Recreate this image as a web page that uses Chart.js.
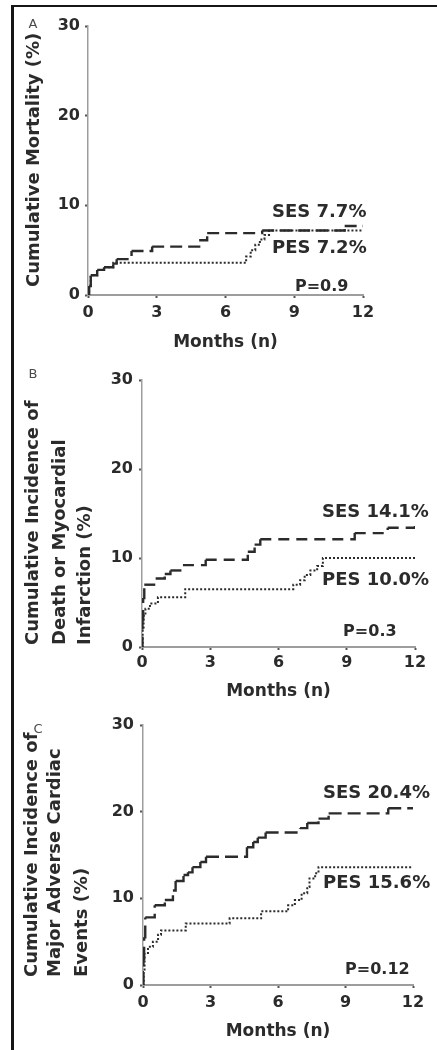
<!DOCTYPE html>
<html>
<head>
<meta charset="utf-8">
<title>Cumulative event curves, SES vs PES</title>
<script src="https://cdn.jsdelivr.net/npm/chart.js@4.4.1/dist/chart.umd.min.js"></script>
<style>
  html, body { margin: 0; padding: 0; background: #fff; }
  body { width: 437px; height: 1050px; position: relative; overflow: hidden; }
  #frame { position: absolute; left: 11px; top: 5px; right: 0; bottom: 0;
           border-left: 3px solid #161616; border-top: 2px solid #161616; }
  canvas { position: absolute; left: 0; }
</style>
</head>
<body>
<div id="frame"></div>
<canvas id="panelA" width="437" height="355" style="top:0px"></canvas>
<canvas id="panelB" width="437" height="350" style="top:355px"></canvas>
<canvas id="panelC" width="437" height="345" style="top:705px"></canvas>
<script>
// ---- shared axes ----
const monthTicks = [0, 3, 6, 9, 12];
const percentTicks = [0, 10, 20, 30];

// ---- A: cumulative mortality ----
const mortalityMonthsSES = [0, 0.05, 0.12, 0.4, 0.7, 1.1, 1.25, 1.9, 2.8, 4.85, 5.2, 7.6, 11.2, 12];
const mortalitySES       = [0, 1.0, 2.2, 2.8, 3.1, 3.5, 4.0, 4.9, 5.4, 6.1, 6.9, 7.2, 7.7, 7.7];
const mortalityMonthsPES = [0, 0.05, 0.12, 0.4, 0.7, 1.1, 6.9, 7.1, 7.3, 7.5, 7.7, 7.9, 12];
const mortalityPES       = [0, 1.0, 2.2, 2.8, 3.1, 3.6, 4.3, 5.0, 5.6, 6.2, 6.7, 7.2, 7.2];
const mortalityRates = [7.7, 7.2];   // SES, PES
const mortalityP = '0.9';

// ---- B: death or myocardial infarction ----
const deathMiMonthsSES = [0, 0.02, 0.05, 0.1, 0.6, 1.0, 1.25, 1.8, 2.8, 4.65, 4.95, 5.2, 9.35, 10.8, 12];
const deathMiSES       = [0, 3.0, 5.5, 7.0, 7.7, 8.2, 8.6, 9.2, 9.8, 10.7, 11.5, 12.1, 12.8, 13.4, 14.1];
const deathMiMonthsPES = [0, 0.03, 0.07, 0.15, 0.35, 0.7, 1.9, 6.65, 6.95, 7.15, 7.4, 7.7, 7.95, 12];
const deathMiPES       = [0, 2.0, 3.5, 4.3, 4.9, 5.6, 6.5, 7.0, 7.5, 8.1, 8.6, 9.1, 10.0, 10.0];
const deathMiRates = [14.1, 10.0];
const deathMiP = '0.3';

// ---- C: major adverse cardiac events ----
const maceMonthsSES = [0, 0.02, 0.05, 0.1, 0.52, 0.97, 1.33, 1.45, 1.8, 2.0, 2.2, 2.55, 2.8, 4.62, 4.9, 5.1, 5.45, 6.98, 7.3, 7.8, 8.25, 10.9, 12];
const maceSES       = [0, 3.0, 5.5, 7.8, 9.2, 9.8, 10.9, 12.0, 12.7, 13.0, 13.6, 14.2, 14.8, 15.9, 16.5, 17.0, 17.6, 18.1, 18.7, 19.2, 19.8, 20.4, 20.4];
const maceMonthsPES = [0, 0.03, 0.07, 0.22, 0.44, 0.67, 0.8, 1.9, 3.85, 5.25, 6.45, 6.75, 7.05, 7.3, 7.4, 7.65, 7.8, 12];
const macePES       = [0, 1.5, 3.7, 4.4, 5.0, 5.8, 6.3, 7.1, 7.7, 8.5, 9.2, 9.8, 10.6, 11.3, 12.3, 12.9, 13.6, 13.6];
const maceRates = [20.4, 15.6];
const maceP = '0.12';

const seriesNames = ['SES', 'PES'];

// ---- styling ----
const INK = '#2b2b2b';
const AXIS = '#9d9d9d';
const FONT = "'DejaVu Sans', sans-serif";
Chart.defaults.font.family = FONT;
Chart.defaults.color = INK;

// Draws the series/P annotations (in data coordinates), the panel letter
// and the rotated, bottom-anchored multi-line y-axis title.
const kmNotes = {
  id: 'kmNotes',
  afterDraw(chart, _args, o) {
    const { ctx } = chart;
    const xs = chart.scales.x, ys = chart.scales.y;
    ctx.save();
    ctx.textBaseline = 'middle';
    ctx.textAlign = 'left';
    ctx.fillStyle = INK;
    o.notes.forEach(n => {
      ctx.font = n.font;
      ctx.fillText(n.text, xs.getPixelForValue(n.at[0]), ys.getPixelForValue(n.at[1]));
    });
    ctx.font = "13px " + FONT;
    ctx.fillStyle = '#4a4a4a';
    ctx.textAlign = 'center';
    ctx.fillText(o.letter, o.letterPos[0], o.letterPos[1]);
    ctx.font = "bold 18px " + FONT;
    ctx.fillStyle = INK;
    ctx.textAlign = 'left';
    o.title.forEach((line, i) => {
      ctx.save();
      ctx.translate(o.titleX[i], o.titleBottom);
      ctx.rotate(-Math.PI / 2);
      ctx.fillText(line, 0, 0);
      ctx.restore();
    });
    ctx.restore();
  }
};

function toPoints(months, values) {
  return months.map((m, i) => ({ x: m, y: values[i] }));
}

function makePanel(id, p) {
  const canvas = document.getElementById(id);
  const W = canvas.width, H = canvas.height;
  const noteFont = "bold 18px " + FONT;
  const pFont = "bold 16px " + FONT;
  return new Chart(canvas, {
    type: 'line',
    data: {
      datasets: [
        {
          label: seriesNames[0],
          data: toPoints(p.ses[0], p.ses[1]),
          stepped: 'before',
          borderColor: INK,
          borderWidth: 2.4,
          borderDash: p.sesDash,
          borderCapStyle: 'butt',
          pointRadius: 0,
          fill: false,
          // stroke every step on its own so the dash pattern restarts at each
          // event; short steps then read as solid, long plateaus as dashes
          segment: {
            borderDash: () => p.sesDash,
            borderDashOffset: c => (c.p0DataIndex % 2) * 0.01
          }
        },
        {
          label: seriesNames[1],
          data: toPoints(p.pes[0], p.pes[1]),
          stepped: 'before',
          borderColor: INK,
          borderWidth: 2,
          borderDash: [2, 2],
          borderCapStyle: 'butt',
          pointRadius: 0,
          fill: false
        }
      ]
    },
    options: {
      responsive: false,
      animation: false,
      events: [],
      layout: { padding: { top: p.area.top, right: W - p.area.right, left: 0, bottom: 0 } },
      plugins: {
        legend: { display: false },
        tooltip: { enabled: false },
        kmNotes: {
          notes: [
            { text: `${seriesNames[0]} ${p.rates[0].toFixed(1)}%`, at: p.sesAt, font: noteFont },
            { text: `${seriesNames[1]} ${p.rates[1].toFixed(1)}%`, at: p.pesAt, font: noteFont },
            { text: `P=${p.pValue}`, at: p.pAt, font: pFont }
          ],
          letter: p.letter,
          letterPos: p.letterPos,
          title: p.title,
          titleX: p.titleX,
          titleBottom: p.titleBottom
        }
      },
      scales: {
        x: {
          type: 'linear',
          min: 0, max: 12,
          afterBuildTicks: s => { s.ticks = monthTicks.map(v => ({ value: v })); },
          afterFit: s => { s.height = H - p.area.bottom; },
          border: { display: true, color: AXIS, width: 2 },
          grid: { drawOnChartArea: false, drawTicks: true, tickLength: 3, tickWidth: 2, color: '#555' },
          ticks: { padding: p.xTickPad, maxRotation: 0, autoSkip: false,
                   font: { size: 16, weight: 'bold' }, color: INK },
          title: { display: true, text: 'Months (n)', color: INK,
                   font: { size: 17, weight: 'bold' }, padding: { top: 0, bottom: p.xTitlePad } }
        },
        y: {
          min: 0, max: 30,
          afterBuildTicks: s => { s.ticks = percentTicks.map(v => ({ value: v })); },
          afterFit: s => { s.width = p.area.left; },
          border: { display: true, color: AXIS, width: 1.5 },
          grid: { drawOnChartArea: false, drawTicks: true, tickLength: 3, tickWidth: 2, color: '#555' },
          ticks: { padding: p.yTickPad, font: { size: 16, weight: 'bold' }, color: INK }
        }
      }
    },
    plugins: [kmNotes]
  });
}

makePanel('panelA', {
  area: { left: 88, right: 363, top: 26, bottom: 295 },
  ses: [mortalityMonthsSES, mortalitySES],
  pes: [mortalityMonthsPES, mortalityPES],
  sesDash: [12, 6],
  rates: mortalityRates, pValue: mortalityP,
  sesAt: [8.03, 9.25], pesAt: [8.03, 5.24], pAt: [9.03, 0.9],
  letter: 'A', letterPos: [33, 25],
  title: ['Cumulative Mortality (%)'], titleX: [34], titleBottom: 287,
  xTickPad: 5, xTitlePad: 2, yTickPad: 5
});

makePanel('panelB', {
  area: { left: 142, right: 415, top: 25, bottom: 292 },
  ses: [deathMiMonthsSES, deathMiSES],
  pes: [deathMiMonthsPES, deathMiPES],
  sesDash: [11, 7],
  rates: deathMiRates, pValue: deathMiP,
  sesAt: [7.91, 15.17], pesAt: [7.91, 7.53], pAt: [8.84, 1.69],
  letter: 'B', letterPos: [33, 20],
  title: ['Cumulative Incidence of', 'Death or Myocardial', 'Infarction (%)'],
  titleX: [33, 60, 85], titleBottom: 290,
  xTickPad: 3, xTitlePad: 3, yTickPad: 6
});

makePanel('panelC', {
  area: { left: 143, right: 413, top: 20, bottom: 280 },
  ses: [maceMonthsSES, maceSES],
  pes: [maceMonthsPES, macePES],
  sesDash: [13, 6],
  rates: maceRates, pValue: maceP,
  sesAt: [8.0, 22.15], pesAt: [8.0, 11.76], pAt: [8.98, 1.73],
  letter: 'C', letterPos: [38, 25],
  title: ['Cumulative Incidence of', 'Major Adverse Cardiac', 'Events (%)'],
  titleX: [32, 55, 82], titleBottom: 272,
  xTickPad: 5, xTitlePad: 8, yTickPad: 6
});
</script>
</body>
</html>
